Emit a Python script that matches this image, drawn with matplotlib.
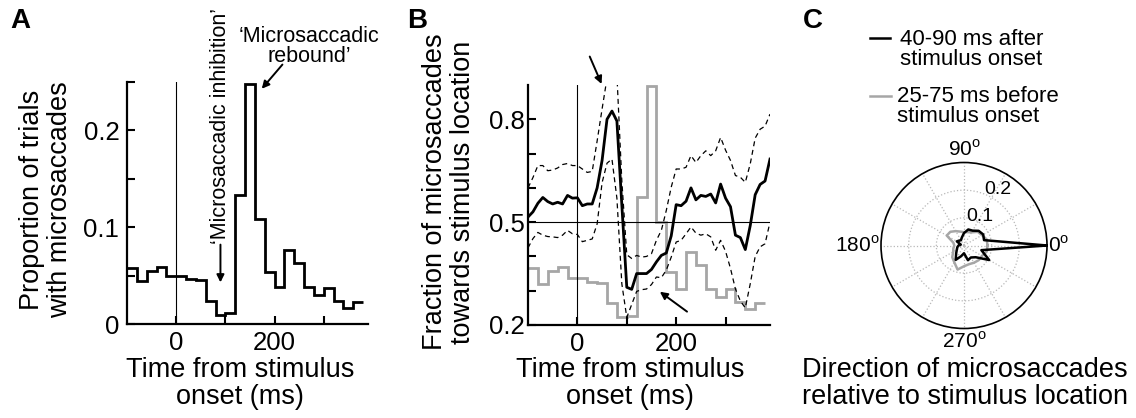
import numpy as np
import matplotlib
matplotlib.use("Agg")
import matplotlib.pyplot as plt
from matplotlib.lines import Line2D

plt.rcParams["font.family"] = ["Liberation Sans", "DejaVu Sans"]
plt.rcParams["mathtext.fontset"] = "custom"
plt.rcParams["mathtext.rm"] = "Liberation Sans"

# ---- panel A: microsaccade rate histogram (20 ms bins) ----
bin_edges_A = np.arange(-100, 381, 20)
rate_A = [0.058, 0.044, 0.055, 0.059, 0.050, 0.050, 0.046, 0.045, 0.024, 0.009,
          0.011, 0.133, 0.248, 0.108, 0.054, 0.038, 0.076, 0.063, 0.038, 0.030,
          0.037, 0.024, 0.017, 0.023]

# ---- panel B: fraction towards stimulus ----
time_B = np.arange(-100, 391, 10)
frac_mean = [0.515, 0.530, 0.555, 0.572, 0.560, 0.553, 0.558, 0.553, 0.578, 0.570,
             0.571, 0.548, 0.553, 0.553, 0.600, 0.680, 0.800, 0.824, 0.795, 0.550,
             0.310, 0.304, 0.350, 0.350, 0.350, 0.362, 0.384, 0.403, 0.410, 0.460,
             0.551, 0.548, 0.561, 0.600, 0.565, 0.578, 0.575, 0.582, 0.556, 0.611,
             0.570, 0.545, 0.462, 0.455, 0.420, 0.490, 0.580, 0.610, 0.620, 0.684]
frac_upper = [0.600, 0.630, 0.665, 0.665, 0.650, 0.652, 0.658, 0.668, 0.671, 0.665,
              0.665, 0.655, 0.645, 0.648, 0.737, 0.830, 0.920, 0.970, 0.930, 0.620,
              0.405, 0.394, 0.403, 0.398, 0.400, 0.408, 0.447, 0.476, 0.534, 0.602,
              0.655, 0.655, 0.660, 0.694, 0.674, 0.694, 0.708, 0.694, 0.708, 0.747,
              0.710, 0.680, 0.636, 0.631, 0.616, 0.670, 0.745, 0.771, 0.780, 0.815]
frac_lower = [0.425, 0.452, 0.470, 0.462, 0.458, 0.457, 0.455, 0.462, 0.476, 0.466,
              0.464, 0.443, 0.447, 0.451, 0.495, 0.615, 0.672, 0.684, 0.570, 0.320,
              0.222, 0.260, 0.298, 0.303, 0.305, 0.318, 0.340, 0.338, 0.360, 0.398,
              0.442, 0.447, 0.466, 0.486, 0.468, 0.462, 0.466, 0.457, 0.418, 0.447,
              0.415, 0.365, 0.305, 0.270, 0.250, 0.320, 0.400, 0.428, 0.437, 0.500]
bin_edges_B = np.arange(-100, 381, 20)
frac_gray = [0.365, 0.321, 0.358, 0.369, 0.338, 0.338, 0.326, 0.323, 0.263, 0.224,
             0.226, 0.573, 0.897, 0.500, 0.355, 0.306, 0.413, 0.374, 0.306, 0.282,
             0.306, 0.268, 0.248, 0.263]

# ---- panel C: direction distributions ----
dir_deg = np.arange(0, 360, 15)
dir_after = [0.300, 0.075, 0.080, 0.075, 0.062, 0.060, 0.045, 0.030, 0.022, 0.025,
             0.030, 0.012, 0.020, 0.025, 0.030, 0.040, 0.060, 0.040, 0.028, 0.055,
             0.050, 0.060, 0.105, 0.065]
dir_before = [0.085, 0.085, 0.075, 0.070, 0.055, 0.050, 0.048, 0.052, 0.060, 0.070,
              0.072, 0.040, 0.035, 0.040, 0.045, 0.060, 0.070, 0.090, 0.075, 0.070,
              0.072, 0.075, 0.075, 0.085]

GRAY = "#a6a6a6"
TICK_FS = 18.5
LABEL_FS = 19.5
NOTE_FS = 15.5

fig = plt.figure(figsize=(11.36, 4.18), dpi=100)


def style_axes(ax, ypad):
    for s in ("top", "right"):
        ax.spines[s].set_visible(False)
    for s in ("left", "bottom"):
        ax.spines[s].set_linewidth(1.6)
    ax.tick_params(direction="in", length=6, width=1.5, labelsize=TICK_FS)
    ax.tick_params(axis="y", pad=ypad)
    ax.tick_params(axis="x", pad=5)


arrow = dict(arrowstyle="-|>", color="k", lw=1.4, mutation_scale=11,
             shrinkA=0, shrinkB=0)

# ---------------- A ----------------
axA = fig.add_axes([127 / 1136, 1 - 324 / 418, 241 / 1136, 242 / 418])
axA.axvline(0, color="k", lw=0.8)
axA.stairs(rate_A, bin_edges_A, color="k", lw=2.0, baseline=None)
axA.set_xlim(-100, 390)
axA.set_ylim(0, 0.25)
axA.set_xticks([0, 100, 200, 300])
axA.set_xticklabels(["0", "", "200", ""])
axA.set_yticks([0, 0.05, 0.1, 0.15, 0.2, 0.25])
axA.set_yticklabels(["0", "", "0.1", "", "0.2", ""])
style_axes(axA, 5.5)

axA.annotate("", xy=(90, 0.043), xytext=(90, 0.082), arrowprops=arrow,
             annotation_clip=False)
axA.text(90, 0.083, "\u2018Microsaccadic inhibition\u2019", rotation=90,
         ha="center", va="bottom", fontsize=NOTE_FS, clip_on=False)
axA.annotate("", xy=(174, 0.243), xytext=(216, 0.268), arrowprops=arrow,
             annotation_clip=False)
axA.text(271, 0.265, "\u2018Microsaccadic\nrebound\u2019", ha="center",
         va="bottom", multialignment="center", linespacing=0.95,
         fontsize=NOTE_FS, clip_on=False)

# ---------------- B ----------------
axB = fig.add_axes([528 / 1136, 1 - 325 / 418, 242 / 1136, 240 / 418])
axB.axvline(0, color="k", lw=0.8)
axB.axhline(0.5, color="k", lw=0.8)
axB.stairs(frac_gray, bin_edges_B, color=GRAY, lw=2.0, baseline=None)
axB.plot(time_B, frac_upper, color="k", lw=0.9, dashes=(4, 3))
axB.plot(time_B, frac_lower, color="k", lw=0.9, dashes=(4, 3))
axB.plot(time_B, frac_mean, color="k", lw=2.0)
axB.set_xlim(-100, 390)
axB.set_ylim(0.2, 0.9)
axB.set_xticks([0, 100, 200, 300])
axB.set_xticklabels(["0", "", "200", ""])
axB.set_yticks([0.2, 0.3, 0.4, 0.5, 0.6, 0.7, 0.8])
axB.set_yticklabels(["0.2", "", "", "0.5", "", "", "0.8"])
style_axes(axB, 2.0)

axB.annotate("", xy=(49, 0.903), xytext=(25, 0.983), arrowprops=arrow,
             annotation_clip=False)
axB.annotate("", xy=(167, 0.297), xytext=(222, 0.239), arrowprops=arrow,
             annotation_clip=False)

# ---------------- C ----------------
axC = fig.add_axes([881 / 1136, 1 - 328.5 / 418, 166 / 1136, 166 / 418],
                   projection="polar")
th = np.deg2rad(np.append(dir_deg, dir_deg[0]))
axC.plot(th, np.append(dir_before, dir_before[0]), color=GRAY, lw=1.8)
axC.plot(th, np.append(dir_after, dir_after[0]), color="k", lw=1.8)
axC.set_ylim(0, 0.3)
axC.set_yticks([0.1, 0.2])
axC.set_yticklabels([])
axC.set_xticks(np.deg2rad(np.arange(0, 360, 30)))
axC.set_xticklabels([])
axC.grid(True, color="#b8b8b8", linestyle=":", lw=0.9)
axC.spines["polar"].set_linewidth(1.2)

deg = "$^{\\mathrm{o}}$"
axC.text(0, 0.305, "0" + deg, ha="left", va="center", fontsize=15)
axC.text(np.pi / 2, 0.31, "90" + deg, ha="center", va="bottom", fontsize=15)
axC.text(np.pi, 0.305, "180" + deg, ha="right", va="center", fontsize=15)
axC.text(3 * np.pi / 2, 0.31, "270" + deg, ha="center", va="top", fontsize=15)
axC.text(np.deg2rad(62), 0.118, "0.1", ha="center", va="center", fontsize=14)
axC.text(np.deg2rad(59), 0.235, "0.2", ha="center", va="center", fontsize=14)

# legend for C
fig.add_artist(Line2D([870 / 1136, 890 / 1136], [1 - 38 / 418] * 2,
                      color="k", lw=1.8))
fig.add_artist(Line2D([870 / 1136, 891 / 1136], [1 - 95.5 / 418] * 2,
                      color=GRAY, lw=1.8))
fig.text(900 / 1136, 1 - 29 / 418, "40-90 ms after\nstimulus onset",
         ha="left", va="top", fontsize=16, linespacing=0.95)
fig.text(897 / 1136, 1 - 86 / 418, "25-75 ms before\nstimulus onset",
         ha="left", va="top", fontsize=16, linespacing=0.95)

# ---------------- labels ----------------
fig.text(46 / 1136, 1 - 200 / 418, "Proportion of trials\nwith microsaccades",
         rotation=90, ha="center", va="center", fontsize=LABEL_FS,
         linespacing=1.1)
fig.text(449 / 1136, 1 - 192 / 418,
         "Fraction of microsaccades\ntowards stimulus location",
         rotation=90, ha="center", va="center", fontsize=LABEL_FS,
         linespacing=1.1)
for xc, txt in [(240, "Time from stimulus\nonset (ms)"),
                (630, "Time from stimulus\nonset (ms)"),
                (965, "Direction of microsaccades\nrelative to stimulus location")]:
    fig.text(xc / 1136, 1 - 357 / 418, txt, ha="center", va="top",
             fontsize=LABEL_FS, linespacing=1.05)

for x, letter in [(10, "A"), (407, "B"), (803, "C")]:
    fig.text(x / 1136, 1 - 8 / 418, letter, ha="left", va="top",
             fontsize=20, fontweight="bold")

fig.savefig("out.png", dpi=100)
